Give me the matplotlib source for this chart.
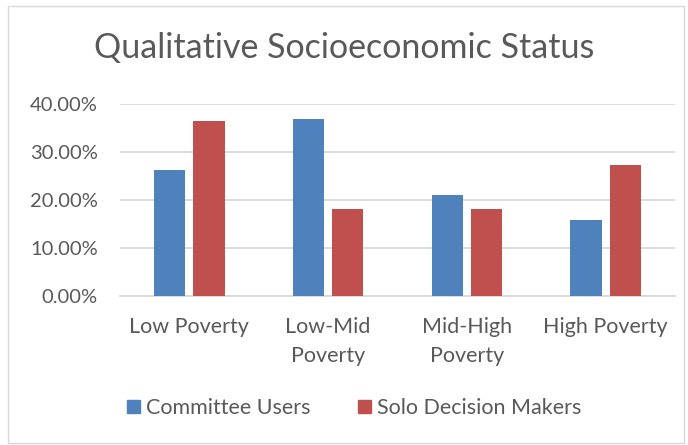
import matplotlib
matplotlib.use("Agg")
import matplotlib.pyplot as plt
import numpy as np
from matplotlib.patches import Rectangle, Patch
from matplotlib.ticker import PercentFormatter

# data
categories = ["Low Poverty", "Low-Mid\nPoverty", "Mid-High\nPoverty", "High Poverty"]
committee_users = [26.32, 36.84, 21.05, 15.79]
solo_decision_makers = [36.36, 18.18, 18.18, 27.27]
series_names = ["Committee Users", "Solo Decision Makers"]
yticks = [0, 10, 20, 30, 40]

BLUE = "#4F81BD"
RED = "#C0504D"
TEXT = "#595959"
GRID = "#D9D9D9"

plt.rcParams["font.family"] = ["Lato", "DejaVu Sans"]

fig = plt.figure(figsize=(6.88, 4.45), dpi=100)
W, H = 688, 445
# plot area in pixel terms: x 120..675, y 104..296 (from top)
ax = fig.add_axes([120 / W, 1 - 296 / H, (675 - 120) / W, (296 - 104) / H])

x = np.arange(len(categories))
bw = 0.225
off = 0.142
ax.bar(x - off, committee_users, bw, color=BLUE, zorder=3)
ax.bar(x + off, solo_decision_makers, bw, color=RED, zorder=3)

ax.set_xlim(-0.5, len(categories) - 0.5)
ax.set_ylim(0, 40)
ax.set_yticks(yticks)
ax.yaxis.set_major_formatter(PercentFormatter(decimals=2))
ax.yaxis.grid(True, color=GRID, linewidth=1.3, zorder=0)
ax.set_axisbelow(True)
for s in ["top", "right", "left"]:
    ax.spines[s].set_visible(False)
ax.spines["bottom"].set_color(GRID)
ax.spines["bottom"].set_linewidth(1.3)
ax.tick_params(axis="both", length=0, colors=TEXT)
ax.tick_params(axis="y", pad=16, labelsize=14.5)
ax.tick_params(axis="x", pad=15, labelsize=15.5)
ax.set_xticks(x)
ax.set_xticklabels(categories, linespacing=1.6)

fig.text(0.5, 1 - 48 / H, "Qualitative Socioeconomic Status", ha="center",
         va="center", fontsize=24.5, color=TEXT)

handles = [Patch(color=BLUE), Patch(color=RED)]
fig.legend(handles, series_names, loc="center", bbox_to_anchor=(0.515, 1 - 408 / H),
           ncol=2, frameon=False, fontsize=15.5, handlelength=0.6, handleheight=0.6,
           handletextpad=0.3, columnspacing=2.2, labelcolor=TEXT)

# light chart border
fig.patches.append(Rectangle((8 / W, 2 / H), (W - 12) / W, (H - 8) / H,
                             transform=fig.transFigure, fill=False,
                             edgecolor="#D9D9D9", linewidth=1))

fig.savefig("out.png", dpi=100)
